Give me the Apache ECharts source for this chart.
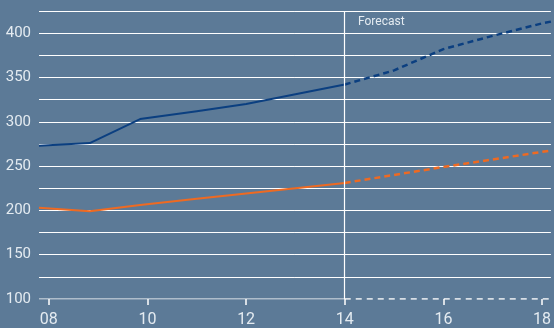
<!DOCTYPE html>
<html>
<head>
<meta charset="utf-8">
<script src="https://cdn.jsdelivr.net/npm/echarts@6/dist/echarts.min.js"></script>
<style>
  html, body { margin: 0; padding: 0; background: #5c7a97; }
  #chart { width: 554px; height: 328px; }
</style>
</head>
<body>
<div id="chart"></div>
<script>
// years (decimal) and values
const actualYears = [7.8, 8.83, 9.85, 11, 12, 13, 14];
const forecastYears = [14, 15, 16, 17, 18, 18.18];
const blueActual = [273, 276, 303, 312, 320, 331, 342];
const blueForecast = [342, 358, 382, 397, 411, 413];
const orangeActual = [203, 199, 206, 213, 219, 225, 231];
const orangeForecast = [231, 240, 249, 257.5, 266, 267.5];
const xTicks = [8, 10, 12, 14, 16, 18];
const forecastStart = 14;
const baseline = 100;

const pairs = (xs, ys) => xs.map((x, i) => [x, ys[i]]);

const chart = echarts.init(document.getElementById('chart'));

const labelColor = '#e4ebf1';
const font = 'Roboto';

chart.setOption({
  backgroundColor: '#5c7a97',
  animation: false,
  grid: { left: 39, right: 0, top: 11, bottom: 28 },
  xAxis: {
    type: 'value',
    min: 7.8,
    max: 18.18,
    axisLine: { show: false },
    splitLine: { show: false },
    axisTick: {
      show: true,
      customValues: xTicks,
      length: 6,
      lineStyle: { color: '#ffffff', width: 1.5 }
    },
    axisLabel: {
      customValues: xTicks,
      color: labelColor,
      fontFamily: font,
      fontSize: 16,
      margin: 13,
      formatter: v => String(Math.round(v)).padStart(2, '0')
    }
  },
  yAxis: {
    type: 'value',
    min: 100,
    max: 425,
    interval: 25,
    axisLine: { show: false },
    axisTick: { show: false },
    splitLine: {
      show: true,
      showMinLine: false,
      lineStyle: { color: '#ffffff', width: 1 }
    },
    axisLabel: {
      color: labelColor,
      fontFamily: font,
      fontSize: 15,
      margin: 8,
      formatter: v => (v % 50 === 0 && v <= 400 ? String(v) : '')
    }
  },
  graphic: [{
    type: 'text',
    left: 358,
    top: 16,
    style: { text: 'Forecast', fill: '#e4ebf1', font: '12px Roboto' }
  }],
  series: [
    {
      type: 'line',
      data: [[7.8, baseline], [forecastStart, baseline]],
      symbol: 'none',
      silent: true,
      lineStyle: { color: '#ffffff', width: 1.2 },
      markLine: {
        silent: true,
        symbol: 'none',
        label: { show: false },
        lineStyle: { color: '#ffffff', width: 1.2, type: 'solid' },
        data: [{ xAxis: forecastStart }]
      }
    },
    {
      type: 'line',
      data: [[forecastStart, baseline], [18.18, baseline]],
      symbol: 'none',
      silent: true,
      lineStyle: { color: '#ffffff', width: 1.3, type: [6, 5] }
    },
    {
      type: 'line',
      data: pairs(actualYears, blueActual),
      symbol: 'none',
      lineStyle: { color: '#0b3f80', width: 2 }
    },
    {
      type: 'line',
      data: pairs(forecastYears, blueForecast),
      symbol: 'none',
      lineStyle: { color: '#0b3f80', width: 2.5, type: [6, 4] }
    },
    {
      type: 'line',
      data: pairs(actualYears, orangeActual),
      symbol: 'none',
      lineStyle: { color: '#ee6a22', width: 2 }
    },
    {
      type: 'line',
      data: pairs(forecastYears, orangeForecast),
      symbol: 'none',
      lineStyle: { color: '#ee6a22', width: 2.5, type: [6, 4] }
    }
  ]
});

window.addEventListener('resize', () => chart.resize());
</script>
</body>
</html>
